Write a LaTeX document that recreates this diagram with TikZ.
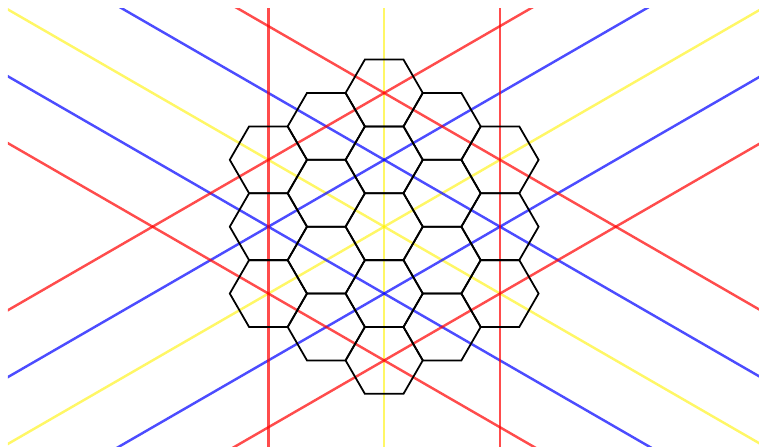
\documentclass[tikz,border=0pt]{standalone}
\usepackage{tikz}
\usetikzlibrary{calc}

\begin{document}
\begin{tikzpicture}[
    hexline/.style={draw=black, line width=1.3pt, line join=miter},
    redline/.style={draw=red, opacity=0.7, line width=1.8pt},
    blueline/.style={draw=blue, opacity=0.7, line width=1.8pt},
    yellowline/.style={draw=yellow, opacity=0.6, line width=1.8pt},
]

% Frame
\useasboundingbox (-9.953,-5.707) rectangle (9.710,5.873);
\coordinate (o) at (0,0);

\begin{scope}
\clip (-9.746,-5.707) rectangle (9.710,5.64);

% Yellow axes through the centre
\foreach \a in {90,30,-30}
    \draw[yellowline, rotate=\a] (-15,0) -- (15,0);

% Blue lines
\foreach \a in {30,-30}
    \foreach \d in {-1.5,1.5}
        \draw[blueline, rotate=\a] (-15,\d) -- (15,\d);

% Red lines
\foreach \a in {90,30,-30}
    \foreach \d in {-3,3}
        \draw[redline, rotate=\a] (-15,\d) -- (15,\d);
\end{scope}

% Hexagons
\foreach \q in {-2,...,2} {
    \pgfmathtruncatemacro\rlo{max(-2,-2-\q)}
    \pgfmathtruncatemacro\rhi{min(2,2-\q)}
    \foreach \r in {\rlo,...,\rhi}
        \draw[hexline] ($(o)+({1.5*\q},{sqrt(3)*(\r+0.5*\q)})$)
            +(0:1) -- +(60:1) -- +(120:1) -- +(180:1) -- +(240:1) -- +(300:1) -- cycle;
}

\end{tikzpicture}
\end{document}
